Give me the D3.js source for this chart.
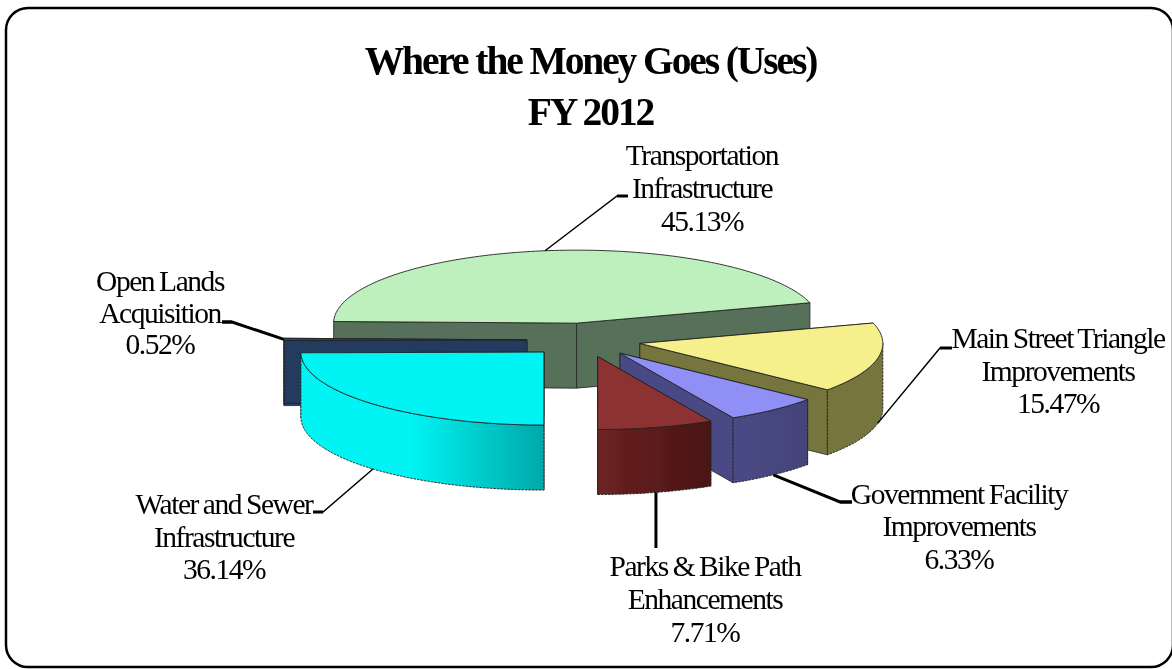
<!DOCTYPE html>
<html><head><meta charset="utf-8">
<style>html,body{margin:0;padding:0;background:#fff;overflow:hidden}svg{display:block}
text{font-family:"Liberation Serif",serif;fill:#000}</style>
<script src="https://cdn.jsdelivr.net/npm/d3@7"></script></head><body>
<svg id="c" width="1172" height="669"></svg>
<script>
// Slice sizes as drawn. The Water and Sewer wedge is drawn at about 24.84% although its label prints 36.14%.
const categories = ["Transportation Infrastructure","Main Street Triangle Improvements","Government Facility Improvements","Parks & Bike Path Enhancements","Water and Sewer Infrastructure","Open Lands Acquisition"];
const sliceValues = [45.13,15.47,6.33,7.71,24.84,0.52];
const labelLines = [["Transportation","Infrastructure","45.13%"],["Main Street Triangle","Improvements","15.47%"],["Government Facility","Improvements","6.33%"],["Parks & Bike Path","Enhancements","7.71%"],["Water and Sewer","Infrastructure","36.14%"],["Open Lands","Acquisition","0.52%"]];
const titleLines = ["Where the Money Goes (Uses)","FY 2012"];
const topColors = ["#bdf0bd","#f6f08c","#8f8ff6","#8c3232","#00f4f4","#2a4470"];
const wallColors = [["#56705a","#56705a"],["#74743c","#74743c"],["#4a4a86","#44447a"],["#6c2222","#4a1414"],["#00f4f4","#00a8a8"],["#243a5e","#243a5e"]];

const W=1172,H=669,cx=584,cy=340,rx=243,ry=73,depth=65,exX=57,exY=17;
const labelAnchor=[[702,165],[1058,348],[959,504],[705,576],[224,514],[160,291]];
const lineStep=[33,32.7,32.3,33,32.5,31.5];
const elbows=[[[617,196],[628,196]],[[940,348],[952,348]],[[840,502],[852,502]],[[656,548]],[[323,512],[313,512]],[[232,322],[222,322]]];
const leaderW=[1.5,1.5,3,3,1.5,3];

const svg=d3.select("#c");
const startDeg=-88.7;
const pieGen=d3.pie().sort(null).startAngle(startDeg*Math.PI/180).endAngle((startDeg+360)*Math.PI/180);
const arcs=pieGen(sliceValues);
const defs=svg.append("defs");
defs.append("filter").attr("id","soft").attr("x",0).attr("y",0).attr("width",1).attr("height",1)
  .append("feGaussianBlur").attr("stdDeviation",0.45);
arcs.forEach((d,i)=>{
  const g=defs.append("linearGradient").attr("id","w"+i).attr("x1",0).attr("x2",1).attr("y1",0).attr("y2",0);
  g.append("stop").attr("offset",i==4?"0.45":"0").attr("stop-color",wallColors[i][0]);
  g.append("stop").attr("offset","1").attr("stop-color",wallColors[i][1]);
});
const root=svg.append("g").attr("filter","url(#soft)");
root.append("rect").attr("width",W).attr("height",H).attr("fill","#fff");
const px=(o,a)=>[o[0]+rx*Math.sin(a),o[1]-ry*Math.cos(a)];
const origin=d=>{const m=(d.startAngle+d.endAngle)/2;return [cx+exX*Math.sin(m),cy-exY*Math.cos(m)];};
const line=d3.line();
const arcPts=(o,a0,a1)=>{const n=Math.max(2,Math.ceil(Math.abs(a1-a0)/0.02));return d3.range(n+1).map(k=>px(o,a0+(a1-a0)*k/n));};

root.append("rect").attr("x",6).attr("y",8).attr("width",1167).attr("height",659).attr("rx",22).attr("fill","#fff").attr("stroke","#000").attr("stroke-width",2.5);

const order=[0,5,1,2,3,4];
const edge="#222";
order.forEach(i=>{
  const d=arcs[i],o=origin(d),g=root.append("g").attr("class","slice");
  const down=p=>[p[0],p[1]+depth];
  [d.startAngle,d.endAngle].forEach(a=>{
    const p=px(o,a);
    g.append("path").attr("d",line([o,p,down(p),down(o)])+"Z").attr("fill",wallColors[i][0]).attr("stroke",edge).attr("stroke-width",.8);
  });
  const s=Math.max(d.startAngle,Math.PI/2),e=Math.min(d.endAngle,Math.PI*1.5);
  if(e>s){
    const pts=arcPts(o,s,e);
    g.append("path").attr("d",line(pts.concat(pts.slice().reverse().map(down)))+"Z").attr("fill",`url(#w${i})`).attr("stroke",edge).attr("stroke-width",.9).attr("stroke-dasharray","2.5 1");
  }
  g.append("path").attr("d",line([o].concat(arcPts(o,d.startAngle,d.endAngle)))+"Z").attr("fill",topColors[i]).attr("stroke",edge).attr("stroke-width",.9);
});

arcs.forEach((d,i)=>{
  const m=(d.startAngle+d.endAngle)/2,o=origin(d),p=px(o,m);
  const front=Math.cos(m)<-0.05;
  const start=front?[p[0],p[1]+depth]:p;
  const pts=[start].concat(elbows[i]);
  if(i===3) pts[1]=[start[0],pts[1][1]];
  root.append("path").attr("d",line(pts)).attr("fill","none").attr("stroke","#000").attr("stroke-width",leaderW[i]);
  if(pts.length>2) root.append("path").attr("d",line(pts.slice(1))).attr("fill","none").attr("stroke","#000").attr("stroke-width",3);
});

titleLines.forEach((s,k)=>{
  root.append("text").attr("x",590.5).attr("y",74+k*51).attr("text-anchor","middle").attr("font-size",39.5).attr("font-weight","bold").attr("letter-spacing",-2.1).text(s);
});
labelLines.forEach((ls,i)=>{
  ls.forEach((s,k)=>{
    root.append("text").attr("x",labelAnchor[i][0]).attr("y",labelAnchor[i][1]+k*lineStep[i]).attr("text-anchor","middle").attr("font-size",29.5).attr("letter-spacing",-1.45).attr("word-spacing",-1).text(s);
  });
});
</script></body></html>
